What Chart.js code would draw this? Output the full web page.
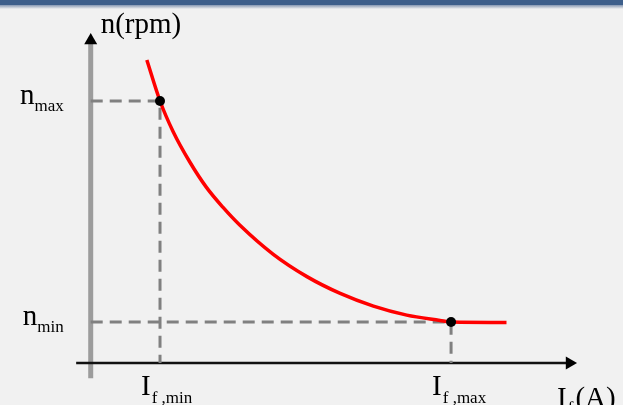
<!DOCTYPE html>
<html><head><meta charset="utf-8">
<script src="https://cdn.jsdelivr.net/npm/chart.js@4.4.0/dist/chart.umd.min.js"></script>
<style>html,body{margin:0;padding:0;background:#f1f1f1;overflow:hidden} canvas{display:block}</style>
</head><body>
<canvas id="c" width="623" height="405"></canvas>
<script>
// curve n = f(If) (arbitrary units)
const curveX = [0.81, 1.00, 1.19, 1.43, 1.67, 1.91, 2.15, 2.63, 3.12, 3.60, 4.08, 4.56, 5.04, 5.20, 6.00];
const curveY = [7.40, 6.40, 5.65, 4.91, 4.29, 3.80, 3.37, 2.66, 2.11, 1.70, 1.39, 1.17, 1.04, 1.00, 0.99];
// marked operating points: (If,min , nmax) and (If,max , nmin)
const markerX = [1.00, 5.20];
const markerY = [6.40, 1.00];
// tick labels (main letter + subscript)
const xTickMain = ['I', 'I'];
const xTickSub = ['f ,min', 'f ,max'];
const yTickMain = ['n', 'n'];
const yTickSub = ['max', 'min'];
// axis titles
const yAxisTitle = 'n(rpm)';
const xAxisTitle = ['I', 'f', '(A)'];
// drawn axis extents (data units)
const xAxisExtent = [-0.21, 6.86];
const yAxisExtent = [-0.37, 7.79];

const SERIF = '"Liberation Serif", "DejaVu Serif", serif';

const datasets = [];
// marker points (top)
datasets.push({
  data: markerX.map((x, i) => ({x, y: markerY[i]})),
  showLine: false, pointRadius: 5, pointBackgroundColor: '#000', pointBorderColor: '#000', pointBorderWidth: 0
});
// curve
datasets.push({
  data: curveX.map((x, i) => ({x, y: curveY[i]})),
  showLine: true, borderColor: '#ff0000', borderWidth: 3.5, pointRadius: 0,
  cubicInterpolationMode: 'monotone', fill: false
});
// dashed guides
markerX.forEach((mx, i) => {
  datasets.push({
    data: [{x: 0, y: markerY[i]}, {x: mx, y: markerY[i]}, {x: mx, y: 0}],
    showLine: true, borderColor: '#808080', borderWidth: 3, borderDash: [12, 7],
    pointRadius: 0, tension: 0
  });
});
// arrow heads
datasets.push({
  data: [{x: 0, y: 7.88}], showLine: false, pointStyle: 'triangle', rotation: 0,
  pointRadius: 7.5, pointBackgroundColor: '#000', pointBorderWidth: 0
});
datasets.push({
  data: [{x: 6.91, y: 0}], showLine: false, pointStyle: 'triangle', rotation: 90,
  pointRadius: 7.5, pointBackgroundColor: '#000', pointBorderWidth: 0
});
// x axis line
datasets.push({
  data: [{x: xAxisExtent[0], y: 0}, {x: xAxisExtent[1], y: 0}],
  showLine: true, borderColor: '#111', borderWidth: 2.5, pointRadius: 0
});
// y axis line
datasets.push({
  data: [{x: 0, y: yAxisExtent[0]}, {x: 0, y: yAxisExtent[1]}],
  showLine: true, borderColor: '#9c9c9c', borderWidth: 5, pointRadius: 0
});

const bgPlugin = {
  id: 'bg',
  beforeDraw(chart) {
    const ctx = chart.ctx;
    ctx.save();
    ctx.fillStyle = '#f1f1f1';
    ctx.fillRect(0, 0, chart.width, chart.height);
    ctx.fillStyle = '#3e5f8b';
    ctx.fillRect(0, 0, chart.width, 5);
    const g = ctx.createLinearGradient(0, 5, 0, 9);
    g.addColorStop(0, '#8597b2');
    g.addColorStop(1, '#f1f1f1');
    ctx.fillStyle = g;
    ctx.fillRect(0, 5, chart.width, 4);
    ctx.restore();
  }
};

const labelPlugin = {
  id: 'labels',
  afterDraw(chart) {
    const ctx = chart.ctx, xs = chart.scales.x, ys = chart.scales.y;
    const mainFont = '29px ' + SERIF, subFont = '17px ' + SERIF;
    ctx.save();
    ctx.fillStyle = '#000';
    ctx.textBaseline = 'alphabetic';
    ctx.textAlign = 'left';
    const x0 = xs.getPixelForValue(0), y0 = ys.getPixelForValue(0);
    // y tick labels (right aligned)
    yTickMain.forEach((m, i) => {
      ctx.font = mainFont; const wm = ctx.measureText(m).width;
      ctx.font = subFont; const ws = ctx.measureText(yTickSub[i]).width;
      const right = x0 - 27;
      const py = ys.getPixelForValue(markerY[i]) + 3;
      ctx.font = mainFont; ctx.fillText(m, right - ws - wm, py);
      ctx.font = subFont; ctx.fillText(yTickSub[i], right - ws, py + 7);
    });
    // x tick labels
    xTickMain.forEach((m, i) => {
      const px = xs.getPixelForValue(markerX[i]) - 19;
      const py = y0 + 32;
      ctx.font = mainFont; ctx.fillText(m, px, py);
      const wm = ctx.measureText(m).width;
      ctx.font = subFont; ctx.fillText(xTickSub[i], px + wm + 1, py + 8);
    });
    // y axis title
    ctx.font = mainFont;
    ctx.fillText(yAxisTitle, x0 + 10, ys.getPixelForValue(yAxisExtent[1]) - 11);
    // x axis title
    let tx = xs.getPixelForValue(xAxisExtent[1]) - 9;
    const ty = y0 + 44;
    ctx.font = mainFont; ctx.fillText(xAxisTitle[0], tx, ty);
    tx += ctx.measureText(xAxisTitle[0]).width + 1;
    ctx.font = subFont; ctx.fillText(xAxisTitle[1], tx, ty + 6);
    tx += ctx.measureText(xAxisTitle[1]).width + 2;
    ctx.font = mainFont; ctx.fillText(xAxisTitle[2], tx, ty);
    ctx.restore();
  }
};

new Chart(document.getElementById('c'), {
  type: 'scatter',
  data: { datasets },
  options: {
    responsive: false,
    animation: false,
    events: [],
    layout: { padding: 0, autoPadding: false },
    plugins: { legend: { display: false }, tooltip: { enabled: false }, title: { display: false } },
    scales: {
      x: { type: 'linear', display: false, min: -1.309, max: 7.681 },
      y: { type: 'linear', display: false, min: -1.026, max: 8.867 }
    }
  },
  plugins: [bgPlugin, labelPlugin]
});
</script>
</body></html>
